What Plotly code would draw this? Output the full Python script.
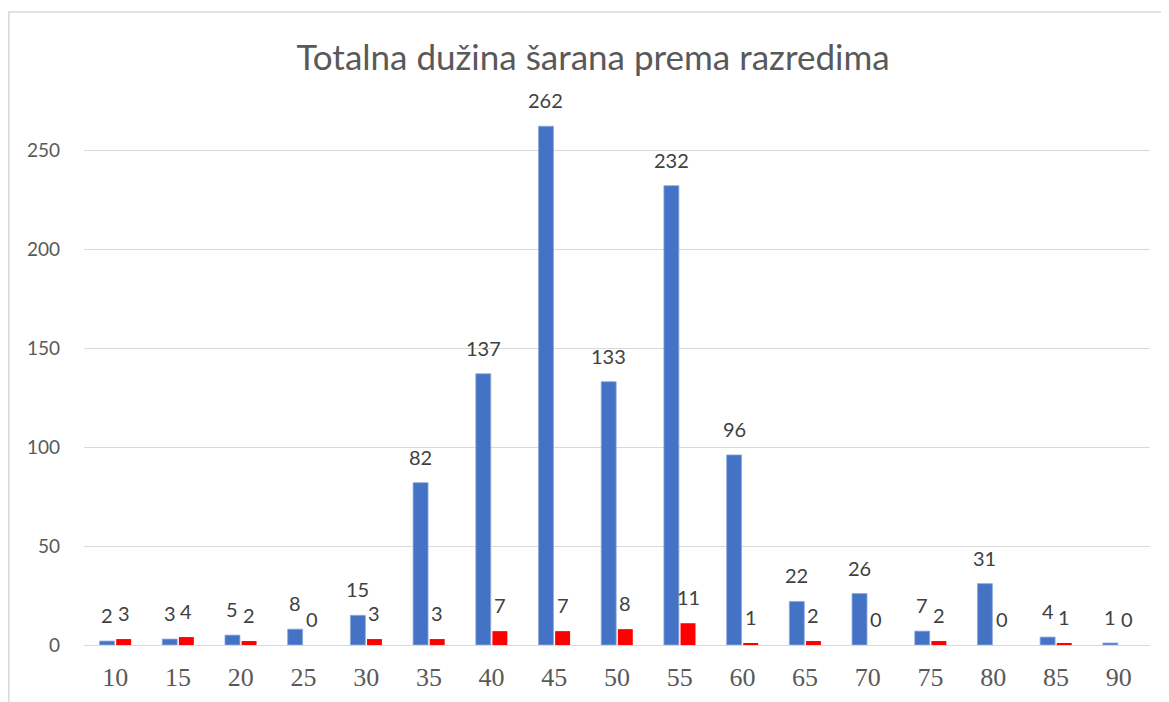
import plotly.graph_objects as go

categories = ["10", "15", "20", "25", "30", "35", "40", "45", "50", "55", "60", "65", "70", "75", "80", "85", "90"]
blue_values = [2, 3, 5, 8, 15, 82, 137, 262, 133, 232, 96, 22, 26, 7, 31, 4, 1]
red_values = [3, 4, 2, 0, 3, 3, 7, 7, 8, 11, 1, 2, 0, 2, 0, 1, 0]
y_ticks = [0, 50, 100, 150, 200, 250]

BLUE = "#4472C4"
RED = "#FF0000"
# page has an 8px body margin; figure sized/offset to compensate
W, H = 1161, 694
L, R, T, B = 76, 19, 43, 57
pw, ph = W - L - R, H - T - B

fig = go.Figure()
fig.add_trace(go.Bar(x=categories, y=blue_values, marker=dict(color=BLUE, line=dict(width=0.8, color="#8FAADC")), name="A"))
fig.add_trace(go.Bar(x=categories, y=red_values, marker=dict(color=RED, line=dict(width=0)), name="B"))

cat_w = pw / len(categories)
bargap = 0.47
slot = cat_w * (1 - bargap) / 2
off = slot / 2

annotations = []
for i, v in enumerate(blue_values):
    annotations.append(dict(x=i, y=v, xref="x", yref="y", text=str(v), showarrow=False,
                            xshift=-off, yshift=26, yanchor="middle",
                            font=dict(family="Lato", size=20, color="#404040")))
for i, v in enumerate(red_values):
    annotations.append(dict(x=i, y=v, xref="x", yref="y", text=str(v), showarrow=False,
                            xshift=off, yshift=26, yanchor="middle",
                            font=dict(family="Lato", size=20, color="#404040")))

fig.update_layout(
    width=W, height=H,
    margin=dict(l=L, r=R, t=T, b=B, autoexpand=False),
    paper_bgcolor="white", plot_bgcolor="white",
    showlegend=False,
    barmode="group", bargap=bargap, bargroupgap=0.1,
    title=dict(text="Totalna dužina šarana prema razredima", x=585 / W, xanchor="center",
               xref="container", y=1 - 50 / H, yanchor="middle", yref="container",
               font=dict(family="Lato", size=35, color="#595959")),
    annotations=annotations,
    shapes=[dict(type="rect", xref="paper", yref="paper",
                 x0=(0.8 - L) / pw, x1=(1185 - L) / pw,
                 y0=(H - T - 720) / ph, y1=(H - B - 4) / ph,
                 line=dict(color="#d9d9d9", width=1.5), fillcolor="rgba(0,0,0,0)", layer="below")],
)
fig.update_xaxes(type="category", range=[-0.5, len(categories) - 0.5], autorange=False,
                 showgrid=False, showline=True, linecolor="#d9d9d9", linewidth=1,
                 ticks="", ticklabelstandoff=9, automargin=False,
                 tickfont=dict(family="Liberation Serif", size=26, color="#595959"))
fig.update_yaxes(range=[0, 300], autorange=False, tickvals=y_ticks, showgrid=True, gridcolor="#d9d9d9", gridwidth=1,
                 zeroline=False, showline=False, ticks="", ticklabelstandoff=23, automargin=False,
                 tickfont=dict(family="Lato", size=19, color="#595959"))

fig.write_html("out.html")
